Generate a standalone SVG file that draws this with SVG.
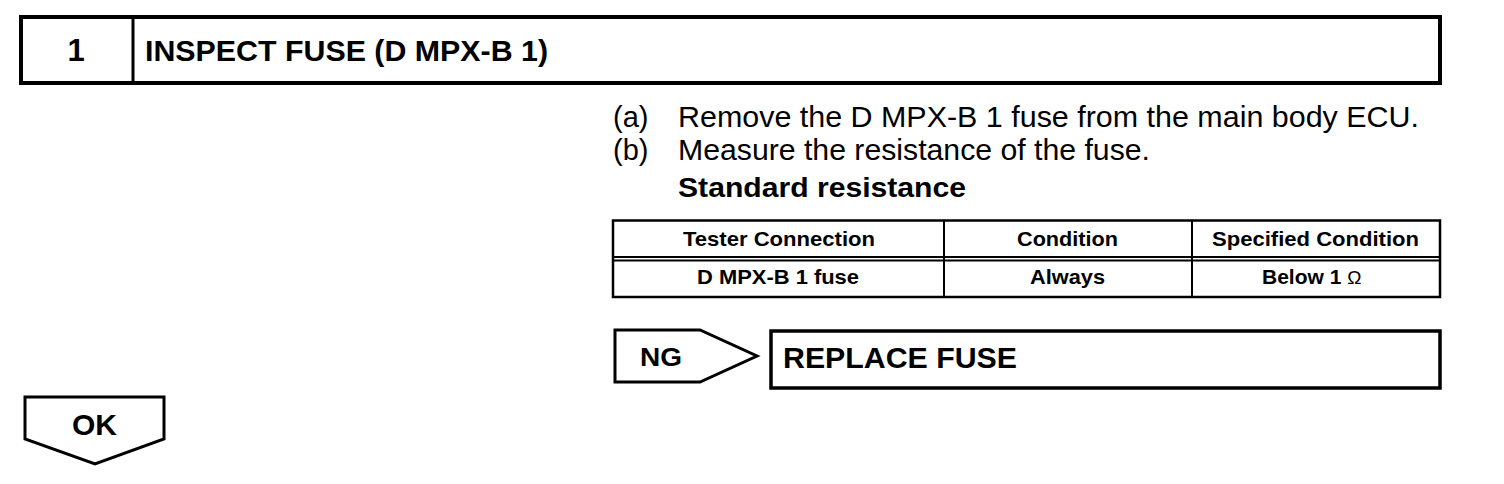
<svg xmlns="http://www.w3.org/2000/svg" width="1504" height="484" viewBox="0 0 1504 484">
<style>
text{font-family:"Liberation Sans",Arial,sans-serif;fill:#000}
.b{font-weight:bold}
.box{fill:#fff;stroke:#000}
.ln{stroke:#000;fill:none}
.th{font-weight:bold;font-size:21px}
.st{font-size:29px}
</style>
<rect width="1504" height="484" fill="#fff"/>
<g id="header">
<rect class="box" x="21" y="17" width="1419" height="66" stroke-width="4"/>
<line class="ln" x1="133" y1="17" x2="133" y2="83" stroke-width="3"/>
<text class="b" x="76" y="61" font-size="31" text-anchor="middle">1</text>
<text class="b" x="145" y="61" font-size="30" textLength="403" lengthAdjust="spacingAndGlyphs">INSPECT FUSE (D MPX-B 1)</text>
</g>
<g id="steps">
<text class="st" x="613" y="127">(a)</text>
<text class="st" x="678" y="127" textLength="741" lengthAdjust="spacingAndGlyphs">Remove the D MPX-B 1 fuse from the main body ECU.</text>
<text class="st" x="613" y="160">(b)</text>
<text class="st" x="678" y="160" textLength="472" lengthAdjust="spacingAndGlyphs">Measure the resistance of the fuse.</text>
<text class="b" x="678" y="197" font-size="27" textLength="288" lengthAdjust="spacingAndGlyphs">Standard resistance</text>
</g>
<g id="table">
<rect class="box" x="613" y="220.5" width="827" height="76.5" stroke-width="2.5"/>
<line class="ln" x1="613" y1="257" x2="1440" y2="257" stroke-width="1.8"/>
<line class="ln" x1="613" y1="260.5" x2="1440" y2="260.5" stroke-width="1.8"/>
<line class="ln" x1="944" y1="220" x2="944" y2="297" stroke-width="2"/>
<line class="ln" x1="1192" y1="220" x2="1192" y2="297" stroke-width="2"/>
<text class="th" x="683" y="246" textLength="192" lengthAdjust="spacingAndGlyphs">Tester Connection</text>
<text class="th" x="1017" y="246" textLength="101" lengthAdjust="spacingAndGlyphs">Condition</text>
<text class="th" x="1212" y="246" textLength="207" lengthAdjust="spacingAndGlyphs">Specified Condition</text>
<text class="th" x="697" y="284" textLength="162" lengthAdjust="spacingAndGlyphs">D MPX-B 1 fuse</text>
<text class="th" x="1030" y="284" textLength="75" lengthAdjust="spacingAndGlyphs">Always</text>
<text class="th" x="1262" y="284">Below 1 <tspan font-weight="normal" font-size="19">Ω</tspan></text>
</g>
<g id="ng">
<path class="box" d="M615,330 H700 L757,356 L700,382 H615 Z" stroke-width="3"/>
<text class="b" x="640" y="366" font-size="25" textLength="42" lengthAdjust="spacingAndGlyphs">NG</text>
</g>
<g id="replace">
<rect class="box" x="771" y="331" width="669" height="57" stroke-width="3.5"/>
<text class="b" x="783" y="368" font-size="29" textLength="234" lengthAdjust="spacingAndGlyphs">REPLACE FUSE</text>
</g>
<g id="ok">
<path class="box" d="M25,397 H164 V439 L95,464 L25,439 Z" stroke-width="3"/>
<text class="b" x="72" y="435" font-size="30" textLength="45" lengthAdjust="spacingAndGlyphs">OK</text>
</g>
<g id="connectors"></g>
</svg>
